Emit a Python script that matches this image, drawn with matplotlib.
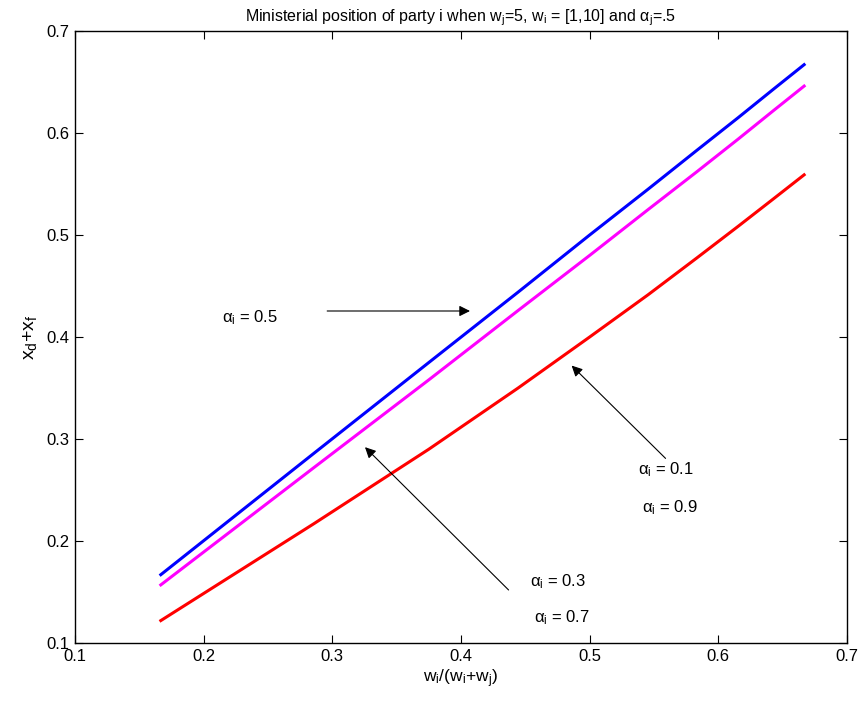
import matplotlib
matplotlib.use("Agg")
import matplotlib.pyplot as plt
import numpy as np

plt.rcParams['font.family'] = ['Liberation Sans', 'DejaVu Sans']
plt.rcParams['mathtext.fontset'] = 'custom'
plt.rcParams['mathtext.rm'] = 'Liberation Sans'
plt.rcParams['mathtext.it'] = 'Liberation Sans'
plt.rcParams['mathtext.bf'] = 'Liberation Sans:bold'

# w_i = 1..10, w_j = 5  ->  share w_i/(w_i+w_j)
share = [0.1667, 0.2857, 0.375, 0.4444, 0.5, 0.5455, 0.5833, 0.6154, 0.6429, 0.6667]
pos_05 = [0.167, 0.286, 0.375, 0.444, 0.500, 0.545, 0.583, 0.615, 0.643, 0.667]
pos_03 = [0.157, 0.272, 0.358, 0.426, 0.480, 0.525, 0.562, 0.594, 0.622, 0.646]
pos_01 = [0.122, 0.217, 0.290, 0.350, 0.400, 0.4415, 0.4775, 0.5085, 0.5355, 0.559]

xticks = [0.1, 0.2, 0.3, 0.4, 0.5, 0.6, 0.7]
yticks = [0.1, 0.2, 0.3, 0.4, 0.5, 0.6, 0.7]

fig = plt.figure(figsize=(8.59, 7.06), dpi=100)
ax = fig.add_axes([0.0873, 0.0892, 0.8987, 0.8669])

ax.plot(share, pos_05, color='#0000ff', lw=2.2)
ax.plot(share, pos_03, color='#ff00ff', lw=2.2)
ax.plot(share, pos_01, color='#ff0000', lw=2.2)

ax.set_xlim(0.1, 0.7)
ax.set_ylim(0.1, 0.7)
ax.set_xticks(xticks)
ax.set_yticks(yticks)
ax.set_xticklabels([str(t) for t in xticks])
ax.set_yticklabels([str(t) for t in yticks])
ax.tick_params(direction='in', length=6, width=0.8, top=True, right=True, labelsize=12, pad=4)
for s in ax.spines.values():
    s.set_linewidth(1.0)

ax.set_title(r'Ministerial position of party i when w$_j$=5, w$_i$ = [1,10] and α$_j$=.5', fontsize=11.5, pad=7)
ax.set_xlabel(r'w$_i$/(w$_i$+w$_j$)', fontsize=12.5, labelpad=3)
ax.set_ylabel(r'x$_d$+x$_f$', fontsize=14, labelpad=5)

arrow = dict(arrowstyle='-|>', color='k', lw=0.8, mutation_scale=16, shrinkA=0, shrinkB=0)
ax.annotate('', xy=(0.407, 0.4255), xytext=(0.296, 0.4255), arrowprops=arrow)
ax.annotate('', xy=(0.486, 0.372), xytext=(0.559, 0.281), arrowprops=arrow)
ax.annotate('', xy=(0.3254, 0.292), xytext=(0.437, 0.152), arrowprops=arrow)

lab = dict(fontsize=12, va='center', ha='left')
ax.text(0.214, 0.419, r'α$_i$ = 0.5', **lab)
ax.text(0.5375, 0.270, r'α$_i$ = 0.1', **lab)
ax.text(0.541, 0.233, r'α$_i$ = 0.9', **lab)
ax.text(0.454, 0.160, r'α$_i$ = 0.3', **lab)
ax.text(0.457, 0.125, r'α$_i$ = 0.7', **lab)

fig.savefig('out.png', dpi=100)
